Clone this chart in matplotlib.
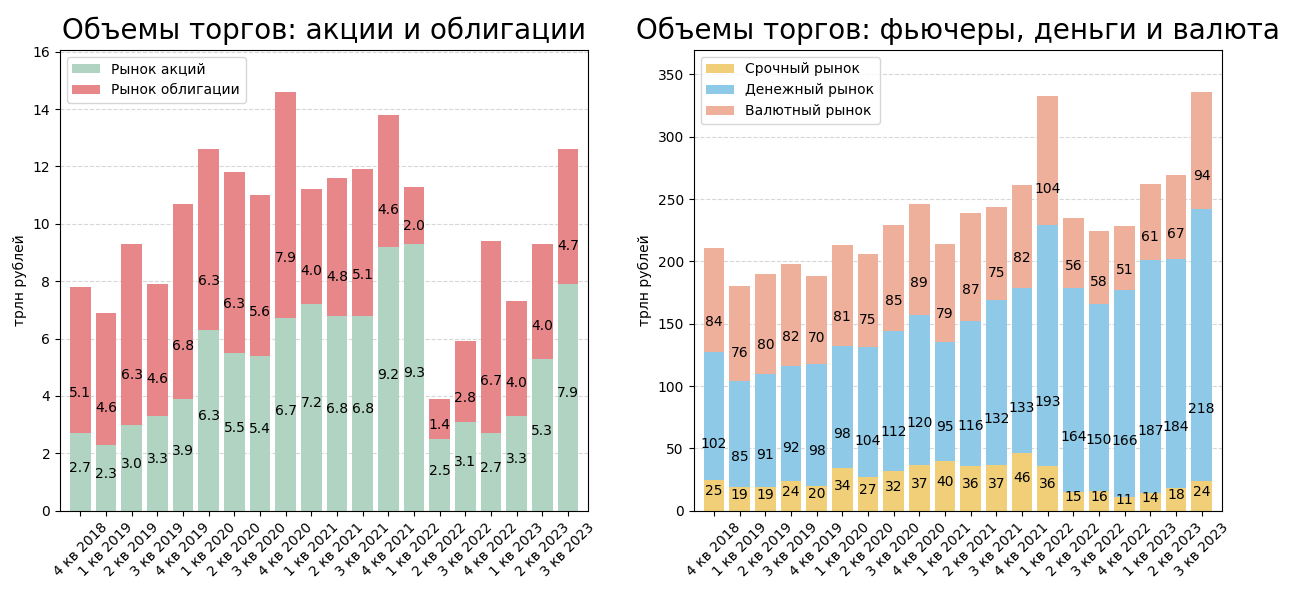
import matplotlib
matplotlib.use("Agg")
import matplotlib.pyplot as plt
import numpy as np


quarters = ["4 кв 2018", "1 кв 2019", "2 кв 2019", "3 кв 2019", "4 кв 2019",
            "1 кв 2020", "2 кв 2020", "3 кв 2020", "4 кв 2020", "1 кв 2021",
            "2 кв 2021", "3 кв 2021", "4 кв 2021", "1 кв 2022", "2 кв 2022",
            "3 кв 2022", "4 кв 2022", "1 кв 2023", "2 кв 2023", "3 кв 2023"]

stocks = [2.7, 2.3, 3.0, 3.3, 3.9, 6.3, 5.5, 5.4, 6.7, 7.2,
          6.8, 6.8, 9.2, 9.3, 2.5, 3.1, 2.7, 3.3, 5.3, 7.9]
bonds = [5.1, 4.6, 6.3, 4.6, 6.8, 6.3, 6.3, 5.6, 7.9, 4.0,
         4.8, 5.1, 4.6, 2.0, 1.4, 2.8, 6.7, 4.0, 4.0, 4.7]

futures = [25, 19, 19, 24, 20, 34, 27, 32, 37, 40,
           36, 37, 46, 36, 15, 16, 11, 14, 18, 24]
money = [102, 85, 91, 92, 98, 98, 104, 112, 120, 95,
         116, 132, 133, 193, 164, 150, 166, 187, 184, 218]
currency = [84, 76, 80, 82, 70, 81, 75, 85, 89, 79,
            87, 75, 82, 104, 56, 58, 51, 61, 67, 94]

left_series = [("Рынок акций", stocks, "#b0d4c1"),
               ("Рынок облигации", bonds, "#e7878a")]
right_series = [("Срочный рынок", futures, "#f1cf78"),
                ("Денежный рынок", money, "#8ecae8"),
                ("Валютный рынок", currency, "#eeaf9b")]


def stacked(ax, series, fmt, title):
    x = np.arange(len(quarters))
    bottom = np.zeros(len(quarters))
    for k, (name, vals, color) in enumerate(series):
        vals = np.array(vals, dtype=float)
        ax.bar(x, vals, bottom=bottom, color=color, label=name, width=0.8)
        # first segment labelled in its middle, the others a quarter up
        ypos = vals / 2 if k == 0 else bottom + vals / 4
        for xi, yi, v in zip(x, ypos, vals):
            ax.text(xi, yi, fmt.format(v), ha="center", fontsize=10)
        bottom = bottom + vals
    ax.set_ylim(0, bottom.max() * 1.1)
    ax.margins(x=0.02)
    ax.set_xticks(x)
    ax.set_xticklabels(quarters, rotation=45)
    ax.set_ylabel("трлн рублей")
    ax.set_title(title, fontsize=20, pad=8)
    ax.grid(axis="y", linestyle="--", alpha=0.5)
    ax.set_axisbelow(True)
    ax.legend(loc="upper left")


fig, (ax1, ax2) = plt.subplots(1, 2, figsize=(12.9, 5.93), dpi=100)
fig.subplots_adjust(left=0.0465, right=0.9473, top=0.9157, bottom=0.1388, wspace=0.199)

stacked(ax1, left_series, "{:.1f}", "Объемы торгов: акции и облигации")
stacked(ax2, right_series, "{:.0f}", "Объемы торгов: фьючеры, деньги и валюта")

plt.savefig("out.png")
